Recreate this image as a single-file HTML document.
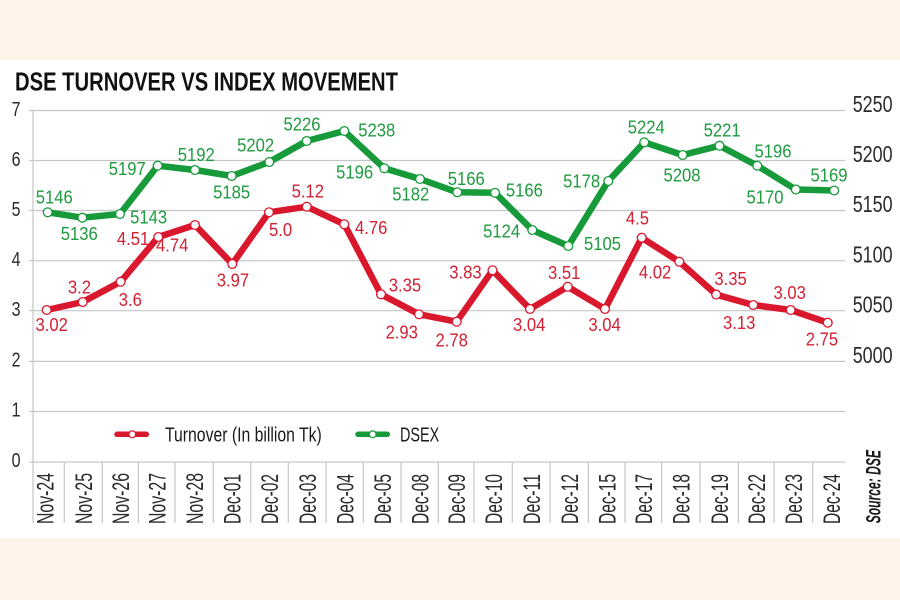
<!DOCTYPE html>
<html><head><meta charset="utf-8"><style>
html,body{margin:0;padding:0;background:#fdf3e8;}
svg{display:block;}
text{font-family:"Liberation Sans",sans-serif;}
</style></head><body>
<svg width="900" height="600" viewBox="0 0 900 600" xmlns="http://www.w3.org/2000/svg">
<rect x="0" y="0" width="900" height="600" fill="#fdf3e8"/>
<rect x="0" y="60" width="900" height="478" fill="#ffffff"/>

<text x="15" y="90.5" font-size="26" font-weight="bold" fill="#111" textLength="383" lengthAdjust="spacingAndGlyphs">DSE TURNOVER VS INDEX MOVEMENT</text>

<!-- gridlines -->
<g stroke="#c6c6c6" stroke-width="1.2">
<line x1="29" y1="110.5" x2="845" y2="110.5"/>
<line x1="29" y1="160.5" x2="845" y2="160.5"/>
<line x1="29" y1="210.5" x2="845" y2="210.5"/>
<line x1="29" y1="260.7" x2="845" y2="260.7"/>
<line x1="29" y1="310.7" x2="845" y2="310.7"/>
<line x1="29" y1="361.4" x2="845" y2="361.4"/>
<line x1="29" y1="411.5" x2="845" y2="411.5"/>
<line x1="29" y1="462" x2="845" y2="462"/>
</g>
<g stroke="#c6c6c6" stroke-width="1.2">
<line x1="33" y1="110.5" x2="33" y2="523"/>
<line x1="64.3" y1="462" x2="64.3" y2="523"/>
<line x1="102.3" y1="462" x2="102.3" y2="523"/>
<line x1="138.3" y1="462" x2="138.3" y2="523"/>
<line x1="175" y1="462" x2="175" y2="523"/>
<line x1="213.3" y1="462" x2="213.3" y2="523"/>
<line x1="250.7" y1="462" x2="250.7" y2="523"/>
<line x1="288.3" y1="462" x2="288.3" y2="523"/>
<line x1="326" y1="462" x2="326" y2="523"/>
<line x1="363.3" y1="462" x2="363.3" y2="523"/>
<line x1="401" y1="462" x2="401" y2="523"/>
<line x1="438.3" y1="462" x2="438.3" y2="523"/>
<line x1="474" y1="462" x2="474" y2="523"/>
<line x1="512.3" y1="462" x2="512.3" y2="523"/>
<line x1="550" y1="462" x2="550" y2="523"/>
<line x1="588.3" y1="462" x2="588.3" y2="523"/>
<line x1="625" y1="462" x2="625" y2="523"/>
<line x1="661.7" y1="462" x2="661.7" y2="523"/>
<line x1="700" y1="462" x2="700" y2="523"/>
<line x1="738.3" y1="462" x2="738.3" y2="523"/>
<line x1="774" y1="462" x2="774" y2="523"/>
<line x1="812.7" y1="462" x2="812.7" y2="523"/>
</g>

<!-- left ticks -->
<g transform="scale(0.8,1)" font-size="20" fill="#2a2a2a" text-anchor="end">
<text x="25.6" y="116">7</text>
<text x="25.6" y="166">6</text>
<text x="25.6" y="216">5</text>
<text x="25.6" y="266">4</text>
<text x="25.6" y="316">3</text>
<text x="25.6" y="366.5">2</text>
<text x="25.6" y="416.5">1</text>
<text x="25.6" y="467">0</text>
</g>
<!-- right ticks -->
<g transform="scale(0.78,1)" font-size="23" fill="#2a2a2a">
<text x="1093.2" y="112">5250</text>
<text x="1093.2" y="162">5200</text>
<text x="1093.2" y="212">5150</text>
<text x="1093.2" y="262.3">5100</text>
<text x="1093.2" y="312.3">5050</text>
<text x="1093.2" y="363">5000</text>
</g>

<!-- x labels -->
<g font-size="23.7" fill="#2a2a2a">
<text transform="translate(53.3,524) rotate(-90)" textLength="51" lengthAdjust="spacingAndGlyphs">Nov-24</text>
<text transform="translate(92,524) rotate(-90)" textLength="51" lengthAdjust="spacingAndGlyphs">Nov-25</text>
<text transform="translate(129,524) rotate(-90)" textLength="51" lengthAdjust="spacingAndGlyphs">Nov-26</text>
<text transform="translate(165.3,524) rotate(-90)" textLength="51" lengthAdjust="spacingAndGlyphs">Nov-27</text>
<text transform="translate(202.8,524) rotate(-90)" textLength="51" lengthAdjust="spacingAndGlyphs">Nov-28</text>
<text transform="translate(240.7,524) rotate(-90)" textLength="50" lengthAdjust="spacingAndGlyphs">Dec-01</text>
<text transform="translate(278.2,524) rotate(-90)" textLength="50" lengthAdjust="spacingAndGlyphs">Dec-02</text>
<text transform="translate(315.8,524) rotate(-90)" textLength="50" lengthAdjust="spacingAndGlyphs">Dec-03</text>
<text transform="translate(353.3,524) rotate(-90)" textLength="50" lengthAdjust="spacingAndGlyphs">Dec-04</text>
<text transform="translate(390.8,524) rotate(-90)" textLength="50" lengthAdjust="spacingAndGlyphs">Dec-05</text>
<text transform="translate(428.3,524) rotate(-90)" textLength="50" lengthAdjust="spacingAndGlyphs">Dec-08</text>
<text transform="translate(464.8,524) rotate(-90)" textLength="50" lengthAdjust="spacingAndGlyphs">Dec-09</text>
<text transform="translate(501.8,524) rotate(-90)" textLength="50" lengthAdjust="spacingAndGlyphs">Dec-10</text>
<text transform="translate(539.8,524) rotate(-90)" textLength="50" lengthAdjust="spacingAndGlyphs">Dec-11</text>
<text transform="translate(577.8,524) rotate(-90)" textLength="50" lengthAdjust="spacingAndGlyphs">Dec-12</text>
<text transform="translate(615.3,524) rotate(-90)" textLength="50" lengthAdjust="spacingAndGlyphs">Dec-15</text>
<text transform="translate(652,524) rotate(-90)" textLength="50" lengthAdjust="spacingAndGlyphs">Dec-17</text>
<text transform="translate(689.5,524) rotate(-90)" textLength="50" lengthAdjust="spacingAndGlyphs">Dec-18</text>
<text transform="translate(727.8,524) rotate(-90)" textLength="50" lengthAdjust="spacingAndGlyphs">Dec-19</text>
<text transform="translate(764.8,524) rotate(-90)" textLength="50" lengthAdjust="spacingAndGlyphs">Dec-22</text>
<text transform="translate(802,524) rotate(-90)" textLength="50" lengthAdjust="spacingAndGlyphs">Dec-23</text>
<text transform="translate(840,524) rotate(-90)" textLength="50" lengthAdjust="spacingAndGlyphs">Dec-24</text>
</g>

<text transform="translate(880.7,523.3) rotate(-90)" font-size="21" font-weight="bold" font-style="italic" fill="#1a1a1a" textLength="73.3" lengthAdjust="spacingAndGlyphs">Source: DSE</text>

<!-- green series -->
<polyline fill="none" stroke="#169a3a" stroke-width="6.5" stroke-linejoin="round" points="47.7,212.3 82.3,217.7 120,214 157.7,165.7 195,170 231.7,176 269.3,162 306.7,141 344.3,131 384.3,168.3 420,179 457.3,192.3 495,192.8 532.3,230 568.3,246 608.3,181 644.3,142.3 682.7,155 719.5,145.7 757.3,165.7 795.8,189.5 834.2,190.5"/>
<g fill="#fff" stroke="#169a3a" stroke-width="1.3">
<circle cx="47.7" cy="212.3" r="4.4"/><circle cx="82.3" cy="217.7" r="4.4"/><circle cx="120" cy="214" r="4.4"/><circle cx="157.7" cy="165.7" r="4.4"/><circle cx="195" cy="170" r="4.4"/><circle cx="231.7" cy="176" r="4.4"/><circle cx="269.3" cy="162" r="4.4"/><circle cx="306.7" cy="141" r="4.4"/><circle cx="344.3" cy="131" r="4.4"/><circle cx="384.3" cy="168.3" r="4.4"/><circle cx="420" cy="179" r="4.4"/><circle cx="457.3" cy="192.3" r="4.4"/><circle cx="495" cy="192.8" r="4.4"/><circle cx="532.3" cy="230" r="4.4"/><circle cx="568.3" cy="246" r="4.4"/><circle cx="608.3" cy="181" r="4.4"/><circle cx="644.3" cy="142.3" r="4.4"/><circle cx="682.7" cy="155" r="4.4"/><circle cx="719.5" cy="145.7" r="4.4"/><circle cx="757.3" cy="165.7" r="4.4"/><circle cx="795.8" cy="189.5" r="4.4"/><circle cx="834.2" cy="190.5" r="4.4"/>
</g>

<!-- red series -->
<polyline fill="none" stroke="#d9172d" stroke-width="6.5" stroke-linejoin="round" points="46.7,310 82.7,302 120.7,281.7 158.3,237 195,225 232.3,264 269,212.3 306.7,206.7 344.3,224.3 381,294.3 419,314.3 456.7,321.7 492.5,270.3 530,309 567.7,286.7 605,309 641.7,237.7 679.3,261.7 716.2,294.6 753.3,305 790.7,310 827.7,322.7"/>
<g fill="#fff" stroke="#d9172d" stroke-width="1.3">
<circle cx="46.7" cy="310" r="4.4"/><circle cx="82.7" cy="302" r="4.4"/><circle cx="120.7" cy="281.7" r="4.4"/><circle cx="158.3" cy="237" r="4.4"/><circle cx="195" cy="225" r="4.4"/><circle cx="232.3" cy="264" r="4.4"/><circle cx="269" cy="212.3" r="4.4"/><circle cx="306.7" cy="206.7" r="4.4"/><circle cx="344.3" cy="224.3" r="4.4"/><circle cx="381" cy="294.3" r="4.4"/><circle cx="419" cy="314.3" r="4.4"/><circle cx="456.7" cy="321.7" r="4.4"/><circle cx="492.5" cy="270.3" r="4.4"/><circle cx="530" cy="309" r="4.4"/><circle cx="567.7" cy="286.7" r="4.4"/><circle cx="605" cy="309" r="4.4"/><circle cx="641.7" cy="237.7" r="4.4"/><circle cx="679.3" cy="261.7" r="4.4"/><circle cx="716.2" cy="294.6" r="4.4"/><circle cx="753.3" cy="305" r="4.4"/><circle cx="790.7" cy="310" r="4.4"/><circle cx="827.7" cy="322.7" r="4.4"/>
</g>

<!-- green labels -->
<g transform="scale(0.9,1)" font-size="18.5" fill="#1e9b3e" text-anchor="middle">
<text x="60.3" y="203.3">5146</text>
<text x="88.1" y="240">5136</text>
<text x="141.4" y="175">5197</text>
<text x="165.2" y="223.3">5143</text>
<text x="218.1" y="161">5192</text>
<text x="257.4" y="198.3">5185</text>
<text x="284.1" y="151.7">5202</text>
<text x="335.6" y="130.7">5226</text>
<text x="418.6" y="136.7">5238</text>
<text x="394.1" y="178.3">5196</text>
<text x="456.4" y="200.7">5182</text>
<text x="518.1" y="185">5166</text>
<text x="582.6" y="196.7">5166</text>
<text x="557.4" y="237.7">5124</text>
<text x="669.4" y="250">5105</text>
<text x="646.3" y="187.3">5178</text>
<text x="718.1" y="133.3">5224</text>
<text x="757.8" y="181.7">5208</text>
<text x="802.4" y="136.7">5221</text>
<text x="858.9" y="157.3">5196</text>
<text x="850" y="203.3">5170</text>
<text x="921.1" y="181.7">5169</text>
</g>

<!-- red labels -->
<g transform="scale(0.9,1)" font-size="18.5" fill="#d31f32" text-anchor="middle">
<text x="57.4" y="331">3.02</text>
<text x="88.3" y="293.3">3.2</text>
<text x="144.8" y="306">3.6</text>
<text x="147.8" y="245">4.51</text>
<text x="191.3" y="251.7">4.74</text>
<text x="258.9" y="286.7">3.97</text>
<text x="311.7" y="236">5.0</text>
<text x="342" y="197.3">5.12</text>
<text x="412.4" y="234">4.76</text>
<text x="450" y="291.7">3.35</text>
<text x="446.4" y="338.3">2.93</text>
<text x="501.9" y="346.7">2.78</text>
<text x="517.2" y="278.3">3.83</text>
<text x="588" y="331">3.04</text>
<text x="626.9" y="279">3.51</text>
<text x="671.7" y="331">3.04</text>
<text x="708.3" y="224.5">4.5</text>
<text x="727.8" y="278.3">4.02</text>
<text x="811.7" y="285">3.35</text>
<text x="821.3" y="329">3.13</text>
<text x="877.4" y="299">3.03</text>
<text x="913.3" y="345.7">2.75</text>
</g>

<!-- legend -->
<line x1="117" y1="434.3" x2="146.3" y2="434.3" stroke="#d9172d" stroke-width="5.5" stroke-linecap="round"/>
<circle cx="132.3" cy="434.3" r="3.4" fill="#fff" stroke="#d9172d" stroke-width="1.2"/>
<text x="165" y="441.7" font-size="20.5" fill="#1a1a1a" textLength="156.7" lengthAdjust="spacingAndGlyphs">Turnover (In billion Tk)</text>
<line x1="358" y1="434.3" x2="387.3" y2="434.3" stroke="#169a3a" stroke-width="5.5" stroke-linecap="round"/>
<circle cx="372.7" cy="434.3" r="3.4" fill="#fff" stroke="#169a3a" stroke-width="1.2"/>
<text x="400" y="441.7" font-size="20.5" fill="#1a1a1a" textLength="39.3" lengthAdjust="spacingAndGlyphs">DSEX</text>
</svg>
</body></html>
